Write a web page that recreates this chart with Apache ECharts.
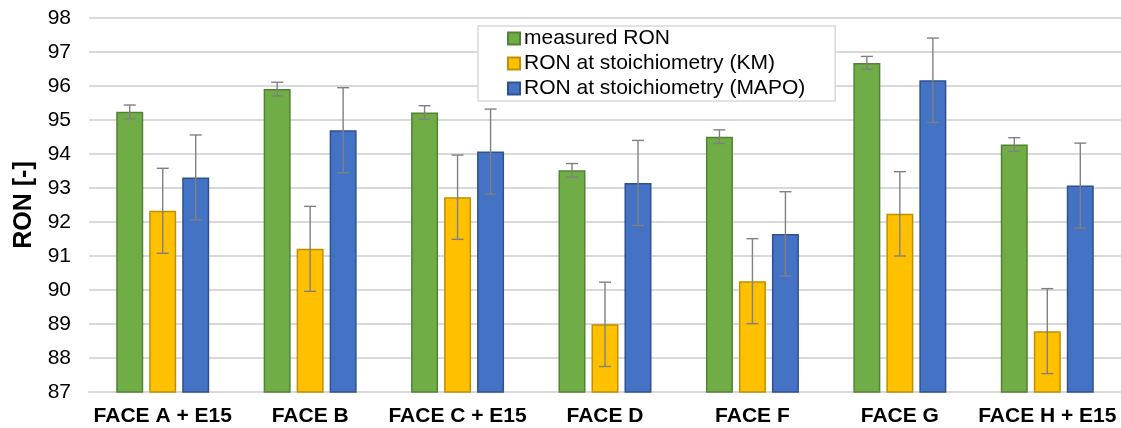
<!DOCTYPE html>
<html>
<head>
<meta charset="utf-8">
<script src="https://cdn.jsdelivr.net/npm/echarts@6/dist/echarts.min.js"></script>
<style>
html,body{margin:0;padding:0;background:#fff;}
#chart{width:1121px;height:428px;}
</style>
</head>
<body>
<div id="chart"></div>
<script>
const categories = ['FACE A + E15','FACE B','FACE C + E15','FACE D','FACE F','FACE G','FACE H + E15'];
const seriesNames = ['measured RON','RON at stoichiometry (KM)','RON at stoichiometry (MAPO)'];
const measured = [95.24, 95.91, 95.22, 93.52, 94.51, 96.68, 94.28];
const km       = [92.33, 91.21, 92.73, 88.99, 90.26, 92.24, 88.79];
const mapo     = [93.31, 94.70, 94.07, 93.15, 91.65, 96.17, 93.07];
const measuredErr = [0.20, 0.20, 0.20, 0.20, 0.20, 0.19, 0.20];
const kmErr       = [1.25, 1.25, 1.24, 1.24, 1.25, 1.24, 1.25];
const mapoErr     = [1.25, 1.25, 1.25, 1.25, 1.24, 1.24, 1.25];
const yTicks = {min: 87, max: 98, interval: 1};

const FONT = '"Liberation Sans", Arial, sans-serif';
const BAR_W = 27, BAR_GAP_PX = 6;
const fills = ['#70AD47', '#FFC000', '#4472C4'];
const borders = ['#548235', '#BF9000', '#2F528F'];

function errData(vals, errs){
  return vals.map((v,i)=>[i, v - errs[i], v + errs[i]]);
}
function errSeries(vals, errs, idx){
  const offset = (idx - 1) * (BAR_W + BAR_GAP_PX);
  return {
    type: 'custom',
    name: 'err' + idx,
    z: 10,
    silent: true,
    data: errData(vals, errs),
    renderItem: function(params, api){
      const top = api.coord([api.value(0), api.value(2)]);
      const bot = api.coord([api.value(0), api.value(1)]);
      const x = top[0] + offset;
      const cap = 6;
      const st = {stroke: '#808080', lineWidth: 1.4};
      return {
        type: 'group',
        children: [
          {type:'line', shape:{x1:x, y1:top[1], x2:x, y2:bot[1]}, style:st},
          {type:'line', shape:{x1:x-cap, y1:top[1], x2:x+cap, y2:top[1]}, style:st},
          {type:'line', shape:{x1:x-cap, y1:bot[1], x2:x+cap, y2:bot[1]}, style:st}
        ]
      };
    }
  };
}
function barSeries(vals, idx){
  return {
    type: 'bar',
    name: seriesNames[idx],
    data: vals,
    barWidth: BAR_W,
    barGap: (BAR_GAP_PX / BAR_W * 100).toFixed(1) + '%',
    itemStyle: {color: fills[idx], borderColor: borders[idx], borderWidth: 1.5}
  };
}

const chart = echarts.init(document.getElementById('chart'), null, {renderer: 'canvas'});
chart.setOption({
  animation: false,
  backgroundColor: '#ffffff',
  textStyle: {fontFamily: FONT},
  grid: {left: 89, right: 0, top: 18, bottom: 36, containLabel: false},
  legend: {
    orient: 'vertical',
    left: 478, top: 26,
    data: seriesNames,
    icon: 'rect',
    itemWidth: 12, itemHeight: 12,
    itemGap: 4,
    padding: [2, 30, 2, 29],
    backgroundColor: '#ffffff',
    borderColor: '#d9d9d9',
    borderWidth: 1.5,
    borderRadius: 0,
    textStyle: {fontFamily: FONT, fontSize: 21, color: '#000', lineHeight: 21, padding: [0,0,0,-1]}
  },
  xAxis: {
    type: 'category',
    data: categories,
    axisTick: {show: false},
    axisLine: {lineStyle: {color: '#d9d9d9', width: 2}},
    axisLabel: {fontFamily: FONT, fontSize: 21, fontWeight: 'bold', color: '#000', margin: 14, interval: 0}
  },
  yAxis: {
    type: 'value',
    min: yTicks.min, max: yTicks.max, interval: yTicks.interval,
    name: 'RON [-]',
    nameLocation: 'middle',
    nameGap: 52,
    nameTextStyle: {fontFamily: FONT, fontSize: 25, fontWeight: 'bold', color: '#000'},
    axisLine: {show: false},
    axisTick: {show: false},
    axisLabel: {fontFamily: FONT, fontSize: 21, color: '#000', margin: 18},
    splitLine: {lineStyle: {color: '#d9d9d9', width: 2}}
  },
  series: [
    barSeries(measured, 0),
    barSeries(km, 1),
    barSeries(mapo, 2),
    errSeries(measured, measuredErr, 0),
    errSeries(km, kmErr, 1),
    errSeries(mapo, mapoErr, 2)
  ]
});
</script>
</body>
</html>
